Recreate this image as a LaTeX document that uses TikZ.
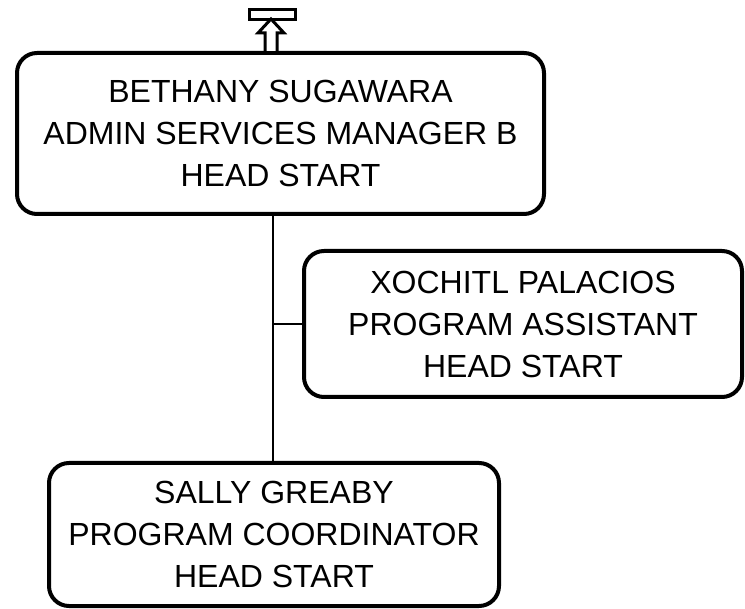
\documentclass[tikz,border=0pt]{standalone}
\usepackage{fontspec}
\setmainfont{Liberation Sans}
\begin{document}
\begin{tikzpicture}[x=1pt,y=-1pt,
  card/.style={draw=black, line width=4pt, rounded corners=20pt, fill=white, align=center, font=\fontsize{32}{42}\selectfont, inner sep=0pt},
  link/.style={draw=black, line width=2pt}]
\useasboundingbox (0,0) rectangle (745,609);
\node[card, minimum width=527pt, minimum height=161pt] (top) at (280.5,133.5) {BETHANY SUGAWARA\\ADMIN SERVICES MANAGER B\\HEAD START};
\node[card, minimum width=438pt, minimum height=146pt] (mid) at (523,324) {XOCHITL PALACIOS\\PROGRAM ASSISTANT\\HEAD START};
\node[card, minimum width=450pt, minimum height=143pt] (bot) at (274,534.5) {SALLY GREABY\\PROGRAM COORDINATOR\\HEAD START};
\coordinate (j) at (273,324);
\draw[link] (top.south -| j) -- (bot.north -| j);
\draw[link] (j) -- (mid.west |- j);
\node[draw=black, line width=3pt, minimum width=46pt, minimum height=10pt, inner sep=0pt] (up) at (272.5,14.5) {};
\draw[line width=3pt, fill=white, line join=miter] (top.north -| 265,0) -- (265,33) -- (258,33) -- (271,19) -- (284,33) -- (277,33) -- (top.north -| 277,0);
\end{tikzpicture}
\end{document}
